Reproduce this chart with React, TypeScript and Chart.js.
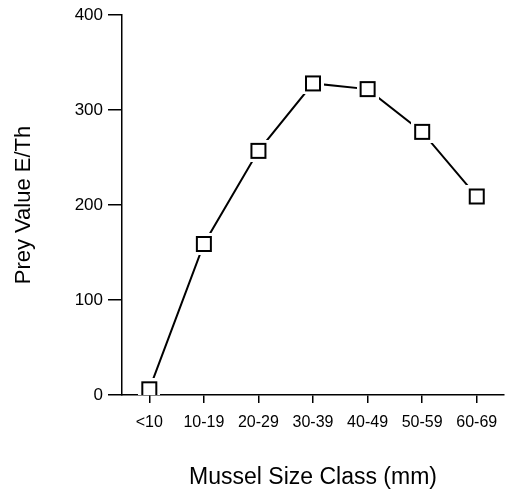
import React, { useEffect, useRef } from "react";
import { Chart, registerables } from "chart.js";

Chart.register(...registerables);

const categories = ["<10", "10-19", "20-29", "30-39", "40-49", "50-59", "60-69"];
const preyValues = [6, 159, 257, 328, 322, 277, 209];
const yTickValues = [0, 100, 200, 300, 400];
const xTitle = "Mussel Size Class (mm)";
const yTitle = "Prey Value E/Th";

const FONT = "'Liberation Sans', Arial, Helvetica, sans-serif";

function makeMarker(): HTMLCanvasElement {
  const c = document.createElement("canvas");
  c.width = 22;
  c.height = 22;
  const ctx = c.getContext("2d")!;
  ctx.fillStyle = "#ffffff";
  ctx.fillRect(0, 0, 22, 22);
  ctx.strokeStyle = "#000000";
  ctx.lineWidth = 2;
  ctx.strokeRect(4, 4, 14, 14);
  return c;
}

export default function App() {
  const canvasRef = useRef<HTMLCanvasElement | null>(null);

  useEffect(() => {
    if (!canvasRef.current) return;
    const marker = makeMarker();
    const chart = new Chart(canvasRef.current, {
      type: "line",
      data: {
        labels: categories,
        datasets: [
          {
            data: preyValues,
            borderColor: "#000",
            borderWidth: 2,
            tension: 0,
            pointStyle: marker as any,
            pointRadius: 8,
            pointBackgroundColor: "#fff",
            pointBorderColor: "#000",
          },
        ],
      },
      options: {
        animation: false,
        responsive: true,
        maintainAspectRatio: false,
        layout: {
          autoPadding: false,
          padding: { top: 15, right: 4, bottom: 0, left: 0 },
        },
        plugins: {
          legend: { display: false },
          tooltip: { enabled: false },
        },
        scales: {
          x: {
            type: "category",
            offset: true,
            z: 1,
            grid: {
              display: true,
              offset: false,
              drawOnChartArea: false,
              drawTicks: true,
              tickLength: 8,
              color: "#000",
              tickColor: "#000",
              lineWidth: 1.5,
            },
            border: { display: true, color: "#000", width: 1.5 },
            ticks: {
              color: "#000",
              font: { family: FONT, size: 16 },
              padding: 10,
              maxRotation: 0,
              autoSkip: false,
            },
            title: {
              display: true,
              text: xTitle,
              color: "#000",
              font: { family: FONT, size: 23 },
              padding: { top: 0, bottom: 0 },
            },
            afterFit: (s: any) => {
              s.height = 96;
              s.paddingRight = 0;
              s.paddingLeft = 0;
            },
          },
          y: {
            min: 0,
            max: 400,
            afterBuildTicks: (s: any) => {
              s.ticks = yTickValues.map((v) => ({ value: v }));
            },
            grid: {
              display: true,
              drawOnChartArea: false,
              drawTicks: true,
              tickLength: 14,
              color: "#000",
              tickColor: "#000",
              lineWidth: 1.5,
            },
            border: { display: true, color: "#000", width: 1.5 },
            ticks: {
              color: "#000",
              font: { family: FONT, size: 17 },
              padding: 5,
            },
            title: {
              display: true,
              text: yTitle,
              color: "#000",
              font: { family: FONT, size: 22 },
              padding: { top: 11, bottom: 0 },
            },
            afterFit: (s: any) => {
              s.width = 122;
              s.paddingTop = 0;
              s.paddingBottom = 0;
            },
          },
        },
      },
    });
    return () => chart.destroy();
  }, []);

  return (
    <div
      style={{
        position: "absolute",
        left: 0,
        top: 0,
        width: 508,
        height: 491,
        background: "#fff",
      }}
    >
      <canvas ref={canvasRef} />
    </div>
  );
}
